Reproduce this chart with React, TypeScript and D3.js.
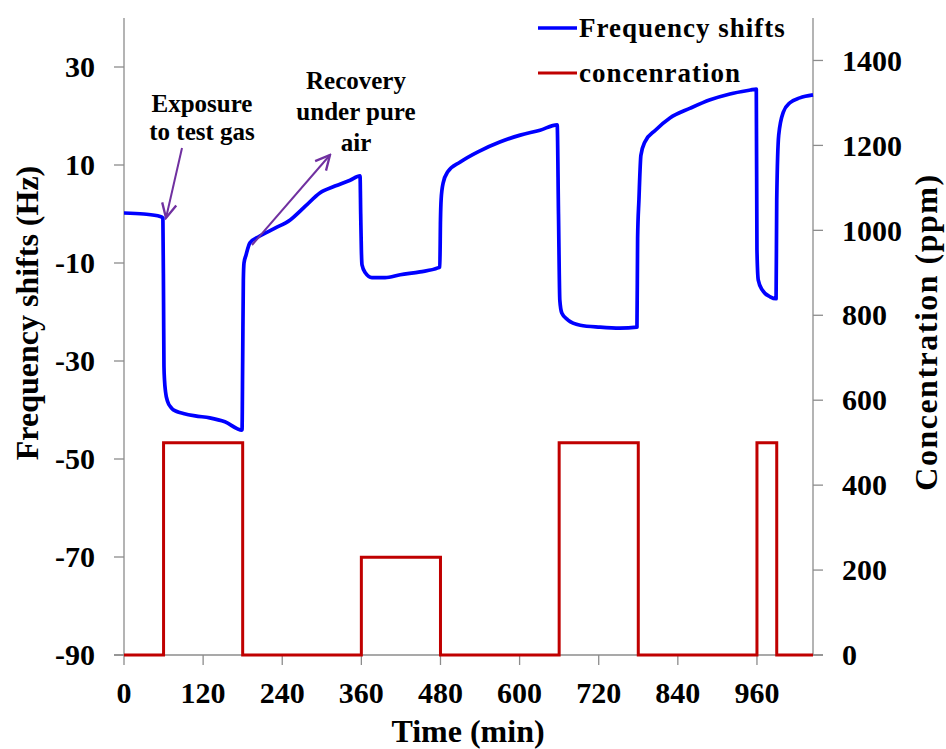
import React, { useEffect } from 'react';
import * as d3 from 'd3';

// frequency shift trace (min, Hz)
const freqTime = [
  0, 30, 55, 59, 60, 60.6, 61.5, 63, 66, 72, 80, 90, 108, 130, 153, 179,
  180, 181, 182, 185, 191, 206, 229, 252, 275, 297, 320, 343, 358,
  359, 360, 361, 366, 376, 396, 419, 449, 476, 479,
  480, 481, 484, 491, 510, 540, 570, 601, 631, 657,
  659, 661, 664, 673, 692, 722, 752, 778,
  779, 781, 784, 790, 806, 828, 859, 889, 919, 950, 959,
  960, 962, 968, 980, 989,
  990, 993, 1000, 1010, 1025, 1045,
];
const freqShift = [
  0.2, 0, -0.5, -0.8, -18, -31, -34, -36.3, -38.2, -39.6, -40.3, -40.7, -41.2, -41.6, -42.4, -44.1,
  -30, -13.5, -10, -8.4, -5.9, -4.5, -2.9, -1.2, 1.6, 4.3, 5.7, 6.9, 7.8,
  0, -7.3, -10.4, -12, -13, -13, -12.4, -11.8, -11, -10.8,
  -1.2, 3, 6.3, 8.6, 10.6, 12.9, 14.7, 16.1, 17.1, 18.2,
  0, -17.6, -20.2, -21.6, -22.7, -23.1, -23.3, -23.1,
  -5, 2.9, 12, 14.7, 17.1, 19.6, 21.6, 23.3, 24.5, 25.3, 25.5,
  -7.3, -13.5, -15.5, -16.9, -17.3,
  2.9, 16.1, 20.8, 22.7, 23.7, 24.3,
];

// gas concentration steps (min, ppm)
const concTime = [0, 60, 180, 360, 480, 660, 780, 960, 990, 1045];
const concValue = [0, 500, 0, 230, 0, 500, 0, 500, 0, 0];

const timeTicks = [0, 120, 240, 360, 480, 600, 720, 840, 960];
const freqTicks = [-90, -70, -50, -30, -10, 10, 30];
const concTicks = [0, 200, 400, 600, 800, 1000, 1200, 1400];

const W = 946;
const H = 749;
const left = 124;
const right = 813;
const top = 18;
const bottom = 655;

const FONT = '"Liberation Serif", "Times New Roman", serif';
const AXIS = '#8c8c8c';
const BLUE = '#0000ff';
const RED = '#c00000';
const PURPLE = '#7030a0';

export default function App() {
  useEffect(() => {
    document.body.style.margin = '0';
  }, []);

  const x = d3.scaleLinear().domain([0, 1045]).range([left, right]);
  const yF = d3.scaleLinear().domain([-90, 40]).range([bottom, top]);
  const yC = d3.scaleLinear().domain([0, 1500]).range([bottom, top]);

  const freqPts: [number, number][] = freqTime.map((t, i) => [t, freqShift[i]]);
  const concPts: [number, number][] = concTime.map((t, i) => [t, concValue[i]]);

  const freqLine = d3
    .line<[number, number]>()
    .x((d) => x(d[0]))
    .y((d) => yF(d[1]))
    .curve(d3.curveMonotoneX);
  const concLine = d3
    .line<[number, number]>()
    .x((d) => x(d[0]))
    .y((d) => yC(d[1]))
    .curve(d3.curveStepAfter);

  return (
    <svg width={W} height={H} style={{ display: 'block', background: '#fff' }} fontFamily={FONT}>
      <defs>
        <marker id="arr" viewBox="0 0 10 10" refX="9" refY="5" markerWidth="9" markerHeight="9" orient="auto">
          <path d="M1,1 L9,5 L1,9" fill="none" stroke={PURPLE} strokeWidth="1.3" />
        </marker>
      </defs>

      {/* axes */}
      <g stroke={AXIS} strokeWidth={1.3}>
        <line x1={left} x2={left} y1={top} y2={bottom} />
        <line x1={right} x2={right} y1={top} y2={bottom} />
        <line x1={left - 10} x2={right + 10} y1={bottom} y2={bottom} />
        {freqTicks.map((v) => (
          <line key={'lf' + v} x1={left - 10} x2={left} y1={yF(v)} y2={yF(v)} />
        ))}
        {concTicks.map((v) => (
          <line key={'rc' + v} x1={right} x2={right + 10} y1={yC(v)} y2={yC(v)} />
        ))}
        {timeTicks.map((v) => (
          <line key={'bt' + v} x1={x(v)} x2={x(v)} y1={bottom} y2={bottom + 10} />
        ))}
      </g>

      <g fontWeight="bold" fontSize={30} fill="#000">
        {freqTicks.map((v) => (
          <text key={'lt' + v} x={left - 29} y={yF(v)} dy="0.34em" textAnchor="end">
            {v}
          </text>
        ))}
        {concTicks.map((v) => (
          <text key={'rt' + v} x={right + 29} y={yC(v)} dy="0.34em" textAnchor="start">
            {v}
          </text>
        ))}
        {timeTicks.map((v) => (
          <text key={'tt' + v} x={x(v)} y={703} textAnchor="middle">
            {v}
          </text>
        ))}
      </g>

      {/* axis titles */}
      <g fontWeight="bold" fontSize={32} fill="#000">
        <text x={468} y={742} textAnchor="middle">Time (min)</text>
        <text transform="translate(38,313) rotate(-90)" textAnchor="middle">Frequency shifts (Hz)</text>
        <text transform="translate(937,332) rotate(-90)" textAnchor="middle" letterSpacing={1.5}>
          Concentration (ppm)
        </text>
      </g>

      {/* series */}
      <path d={concLine(concPts) || ''} fill="none" stroke={RED} strokeWidth={3} />
      <path d={freqLine(freqPts) || ''} fill="none" stroke={BLUE} strokeWidth={3.7} strokeLinejoin="round" />

      {/* legend */}
      <g fontWeight="bold" fontSize={27} fill="#000" letterSpacing={1}>
        <line x1={538} x2={577} y1={28} y2={28} stroke={BLUE} strokeWidth={3.5} />
        <text x={579} y={37}>Frequency shifts</text>
        <line x1={538} x2={577} y1={73} y2={73} stroke={RED} strokeWidth={3} />
        <text x={579} y={82}>concenration</text>
      </g>

      {/* annotations */}
      <g fontWeight="bold" fontSize={25} fill="#000" textAnchor="middle">
        <text x={202} y={112}>Exposure</text>
        <text x={202} y={140}>to test gas</text>
        <text x={356} y={89}>Recovery</text>
        <text x={356} y={120}>under pure</text>
        <text x={356} y={151}>air</text>
      </g>
      <g stroke={PURPLE} strokeWidth={2}>
        <line x1={182} y1={148} x2={166} y2={218} markerEnd="url(#arr)" />
        <line x1={252} y1={245} x2={330} y2={155} markerEnd="url(#arr)" />
      </g>
    </svg>
  );
}
